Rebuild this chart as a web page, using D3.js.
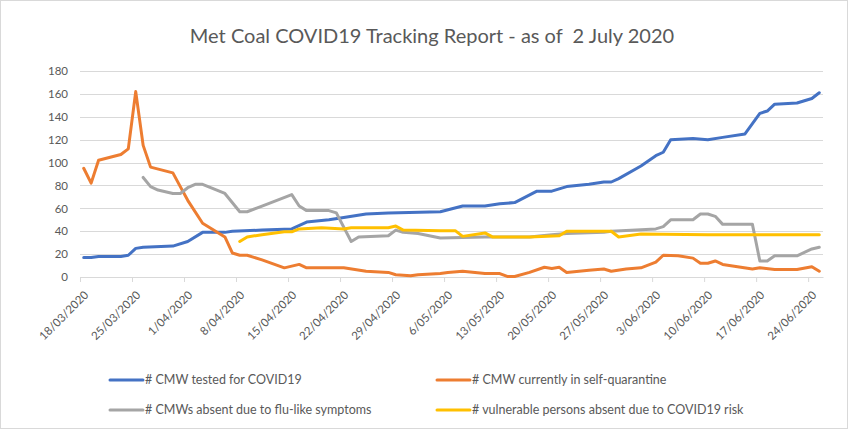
<!DOCTYPE html>
<html lang="en">
<head>
<meta charset="utf-8">
<title>Met Coal COVID19 Tracking Report</title>
<style>
  body { margin: 0; background: #fff; }
  text { font-family: Lato, "Open Sans", sans-serif; fill: #595959; }
  .grid line { stroke: #d9d9d9; shape-rendering: crispEdges; }
  .series { fill: none; stroke-width: 3; stroke-linejoin: round; stroke-linecap: round; }
</style>
</head>
<body>
<script src="https://cdn.jsdelivr.net/npm/d3@7"></script>
<script>

// data (dd/mm, 2020)
var testedDates = ["18/03","19/03","20/03","23/03","24/03","25/03","26/03","30/03","01/04","03/04","06/04","07/04","11/04","15/04","17/04","20/04","22/04","25/04","28/04","05/05","08/05","11/05","13/05","15/05","18/05","20/05","22/05","25/05","27/05","28/05","29/05","01/06","03/06","04/06","05/06","08/06","10/06","12/06","15/06","17/06","18/06","19/06","22/06","24/06","25/06"];
var testedValues = [17,17,18,18,19,25,26,27,31,39,39,40,41,42,48,50,52,55,56,57,62,62,64,65,75,75,79,81,83,83,86,97,106,109,120,121,120,122,125,143,145,151,152,156,161];

var quarantineDates = ["18/03","19/03","20/03","23/03","24/03","25/03","26/03","27/03","30/03","31/03","01/04","03/04","06/04","07/04","08/04","09/04","11/04","14/04","16/04","17/04","22/04","25/04","28/04","29/04","01/05","02/05","05/05","06/05","08/05","11/05","13/05","14/05","15/05","17/05","19/05","20/05","21/05","22/05","25/05","27/05","28/05","30/05","01/06","03/06","04/06","06/06","08/06","09/06","10/06","11/06","12/06","14/06","16/06","17/06","19/06","22/06","24/06","25/06"];
var quarantineValues = [95,82,102,107,112,162,115,96,91,79,67,47,35,21,19,19,15,8,11,8,8,5,4,2,1,2,3,4,5,3,3,0.5,0.5,4,8.5,7.5,8.5,4,6,7,5,7,8,13,19,18.5,16.5,12,12,14,11,9,7,8,6.5,6.5,9,5];

var fluDates = ["26/03","27/03","28/03","30/03","31/03","01/04","02/04","03/04","06/04","08/04","09/04","11/04","15/04","16/04","17/04","20/04","21/04","23/04","24/04","28/04","29/04","30/04","02/05","05/05","11/05","13/05","17/05","20/05","22/05","27/05","28/05","03/06","04/06","05/06","08/06","09/06","10/06","11/06","12/06","16/06","17/06","18/06","19/06","22/06","24/06","25/06"];
var fluValues = [87,79,76,73,73,78,81,81,73,57,57,62,72,62,58,58,56,31,35,36,41,39,38,34,35,35,35,37,38,39,40,42,44,50,50,55,55,53,46,46,14,14,18.5,18.5,24.5,26];

var vulnerableDates = ["08/04","09/04","11/04","14/04","15/04","16/04","19/04","22/04","23/04","28/04","29/04","30/04","05/05","07/05","08/05","11/05","12/05","17/05","21/05","22/05","28/05","29/05","01/06","10/06","17/06","25/06"];
var vulnerableValues = [31,35,37,39.5,39.5,42,43,42,43,43,44.5,41,40.5,40.5,35.5,38.5,35,35,36,40,40,35,37.5,37,37,37];

var seriesNames = ["# CMW tested for COVID19", "# CMW currently in self-quarantine",
                   "# CMWs absent due to flu-like symptoms", "# vulnerable persons absent due to COVID19 risk"];
var seriesColors = ["#4472C4", "#ED7D31", "#A5A5A5", "#FFC000"];

var xTickLabels = ["18/03/2020","25/03/2020","1/04/2020","8/04/2020","15/04/2020","22/04/2020","29/04/2020",
                   "6/05/2020","13/05/2020","20/05/2020","27/05/2020","3/06/2020","10/06/2020","17/06/2020","24/06/2020"];
var yTicks = [0, 20, 40, 60, 80, 100, 120, 140, 160, 180];

var width = 850, height = 430;
var plot = {left: 80, right: 823, top: 71, bottom: 277};

var parseDay = function(s) { return d3.timeParse("%d/%m/%Y")(s + "/2020"); };
var parseFull = d3.timeParse("%d/%m/%Y");

var x = d3.scaleTime()
    .domain([parseDay("18/03"), parseDay("26/06")])
    .range([plot.left, plot.right]);

var y = d3.scaleLinear()
    .domain([0, 180])
    .range([plot.bottom, plot.top]);

var svg = d3.select("body").append("svg")
    .attr("width", width)
    .attr("height", height);

// chart frame
svg.append("rect")
    .attr("x", 0.5).attr("y", 0.5)
    .attr("width", 847).attr("height", 428)
    .attr("fill", "#fff")
    .attr("stroke", "#d9d9d9");

// title
svg.append("text")
    .attr("x", 432)
    .attr("y", 43)
    .attr("text-anchor", "middle")
    .style("font-size", "20px")
    .style("white-space", "pre")
    .text("Met Coal COVID19 Tracking Report - as of  2 July 2020");

// horizontal gridlines + y labels
var yAxis = d3.axisLeft(y)
    .tickValues(yTicks)
    .tickSize(-(plot.right - plot.left))
    .tickPadding(12);

svg.append("g")
    .attr("class", "grid")
    .attr("transform", "translate(" + plot.left + ",0)")
    .call(yAxis)
    .call(function(g) { g.select(".domain").remove(); })
    .call(function(g) { g.selectAll("text").style("font-size", "11.5px").attr("fill", null); });

// x axis
var xAxis = d3.axisBottom(x)
    .tickValues(xTickLabels.map(parseFull))
    .tickFormat(function(d, i) { return xTickLabels[i]; })
    .tickSize(5)
    .tickSizeOuter(0);

var gx = svg.append("g")
    .attr("transform", "translate(0," + plot.bottom + ")")
    .call(xAxis);

gx.select(".domain").attr("stroke", "#d9d9d9");
gx.selectAll(".tick line").attr("stroke", "#d9d9d9");
gx.selectAll(".tick text")
    .attr("fill", null)
    .style("font-size", "11.5px")
    .attr("text-anchor", "end")
    .attr("dx", "0")
    .attr("dy", "0")
    .attr("transform", "translate(3,13) rotate(-45)");

// lines
var line = d3.line()
    .x(function(d) { return x(d3.timeHour.offset(d.date, 12)); })
    .y(function(d) { return y(d.value); });

function series(dates, values) {
  return dates.map(function(s, i) { return {date: parseDay(s), value: values[i]}; });
}

var allSeries = [
  series(testedDates, testedValues),
  series(quarantineDates, quarantineValues),
  series(fluDates, fluValues),
  series(vulnerableDates, vulnerableValues)
];

svg.selectAll(".series")
    .data(allSeries)
  .enter().append("path")
    .attr("class", "series")
    .attr("stroke", function(d, i) { return seriesColors[i]; })
    .attr("d", line);

// legend
var legendPos = [[110, 380], [437, 380], [110, 410], [437, 410]];

var legend = svg.selectAll(".legend")
    .data(seriesNames)
  .enter().append("g")
    .attr("class", "legend")
    .attr("transform", function(d, i) { return "translate(" + legendPos[i][0] + "," + legendPos[i][1] + ")"; });

legend.append("line")
    .attr("x1", 0).attr("x2", 33)
    .attr("stroke", function(d, i) { return seriesColors[i]; })
    .attr("stroke-width", 3)
    .attr("stroke-linecap", "round");

legend.append("text")
    .attr("x", 35)
    .attr("dy", "0.35em")
    .style("font-size", "12.5px")
    .text(function(d) { return d; });

</script>
</body>
</html>
